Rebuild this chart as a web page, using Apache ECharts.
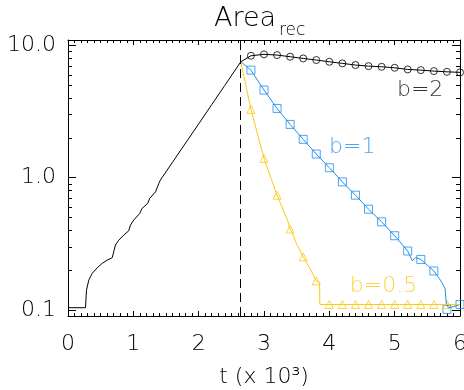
<!DOCTYPE html>
<html>
<head>
<meta charset="utf-8">
<script src="https://cdn.jsdelivr.net/npm/echarts@6/dist/echarts.min.js"></script>
<style>
  html, body { margin: 0; padding: 0; background: #fff; }
  #chart { width: 464px; height: 390px; }
</style>
</head>
<body>
<div id="chart"></div>
<script>
// growth phase (black), t in units of 10^3
const riseT = [0, 0.268, 0.283, 0.318, 0.37, 0.446, 0.523, 0.599, 0.676, 0.70, 0.726, 0.777, 0.853, 0.93,
  0.956, 1.006, 1.098, 1.134, 1.22, 1.25, 1.34, 1.39, 1.414, 1.6, 1.8, 2.0, 2.2, 2.4, 2.645]
const riseV = [0.104, 0.104, 0.141, 0.168, 0.189, 0.208, 0.225, 0.238, 0.248, 0.275, 0.31, 0.337, 0.368, 0.397,
  0.438, 0.478, 0.537, 0.586, 0.639, 0.697, 0.782, 0.905, 0.96, 1.31, 1.83, 2.55, 3.57, 4.99, 7.53]

// decay phase, b = 2 (black circles)
const b2T = [2.8, 3.0, 3.2, 3.4, 3.6, 3.8, 4.0, 4.2, 4.4, 4.6, 4.8, 5.0, 5.2, 5.4, 5.6, 5.8, 6.0]
const b2V = [8.36, 8.57, 8.46, 8.22, 7.98, 7.76, 7.53, 7.32, 7.11, 6.98, 6.90, 6.78, 6.59, 6.51, 6.40, 6.32, 6.26]

// b = 1 (blue squares) and its line
const b1T = [2.8, 3.0, 3.2, 3.4, 3.6, 3.8, 4.0, 4.2, 4.4, 4.6, 4.8, 5.0, 5.2, 5.4, 5.6, 5.8, 6.0]
const b1V = [6.51, 4.60, 3.34, 2.53, 1.95, 1.51, 1.19, 0.93, 0.738, 0.578, 0.464, 0.364, 0.279, 0.241, 0.197, 0.101, 0.110]
const b1LineT = [2.645, 2.74, 2.8, 3.0, 3.2, 3.4, 3.6, 3.8, 4.0, 4.2, 4.4, 4.6, 4.8, 5.0, 5.2, 5.27, 5.32, 5.4,
  5.6, 5.7, 5.77, 5.79, 5.82, 5.9, 6.0]
const b1LineV = [7.53, 6.9, 6.51, 4.60, 3.34, 2.53, 1.95, 1.51, 1.19, 0.93, 0.738, 0.578, 0.464, 0.364, 0.279, 0.235, 0.25, 0.241,
  0.197, 0.168, 0.146, 0.114, 0.104, 0.106, 0.110]

// b = 0.5 (yellow triangles) and its line
const b05T = [2.8, 3.0, 3.2, 3.4, 3.6, 3.8, 4.0, 4.2, 4.4, 4.6, 4.8, 5.0, 5.2, 5.4, 5.6, 5.8]
const b05V = [3.29, 1.40, 0.738, 0.409, 0.252, 0.166, 0.110, 0.110, 0.110, 0.110, 0.110, 0.110, 0.110, 0.110, 0.110, 0.110]
const b05LineT = [2.645, 2.8, 3.0, 3.2, 3.36, 3.4, 3.46, 3.48, 3.6, 3.69, 3.8, 3.85, 3.855, 6.0]
const b05LineV = [7.53, 3.29, 1.40, 0.738, 0.478, 0.409, 0.357, 0.33, 0.252, 0.212, 0.166, 0.16, 0.110, 0.110]

// dashed marker of the peak time
const peakT = 2.63

// curve labels
const labelText = ['b=2', 'b=1', 'b=0.5']
const labelT = [5.39, 4.35, 4.83]
const labelV = [4.6, 1.71, 0.150]

const yRange = [0.09, 11]
const yMajor = [0.1, 1, 10]
const yMinor = [0.2, 0.3, 0.4, 0.5, 0.6, 0.7, 0.8, 0.9, 2, 3, 4, 5, 6, 7, 8, 9]

const BLUE = '#1e8ff0'
const YELLOW = '#ffc814'
const FONT = 'DejaVu Sans'

const pairs = (xs, ys) => xs.map((x, i) => [x, ys[i]])
const logs = arr => arr.map(v => Math.log10(v))

const chart = echarts.init(document.getElementById('chart'))

const xAxisBase = {
  type: 'value',
  min: 0,
  max: 6,
  interval: 1,
  axisLine: { onZero: false, lineStyle: { color: '#000', width: 1 } },
  axisTick: { inside: true, length: 5, lineStyle: { color: '#000' } },
  minorTick: { show: true, splitNumber: 10, length: 3, lineStyle: { color: '#000' } },
  splitLine: { show: false },
  minorSplitLine: { show: false }
}

const yLogBase = {
  type: 'value',
  min: Math.log10(yRange[0]),
  max: Math.log10(yRange[1]),
  splitLine: { show: false },
  axisLabel: { show: false }
}

const option = {
  animation: false,
  backgroundColor: '#fff',
  textStyle: { fontFamily: FONT },
  grid: { left: 68, right: 4, top: 40, bottom: 74, outerBoundsMode: 'none', containLabel: false },
  graphic: [
    { type: 'text', x: 214, y: 19, style: { text: 'Area', font: '200 27px "DejaVu Sans"', fill: '#000', verticalAlign: 'middle' } },
    { type: 'text', x: 279, y: 31, style: { text: 'rec', font: '200 17px "DejaVu Sans"', fill: '#000', verticalAlign: 'middle' } }
  ],
  xAxis: [
    {
      ...xAxisBase,
      position: 'bottom',
      axisLabel: { color: '#000', fontSize: 22, fontWeight: 200, margin: 17 },
      name: 't (x 10³)',
      nameLocation: 'middle',
      nameGap: 50,
      nameTextStyle: { color: '#000', fontSize: 22, fontWeight: 200 }
    },
    { ...xAxisBase, position: 'top', axisLabel: { show: false } }
  ],
  yAxis: [
    // data axis, hidden; the frame and ticks come from the value axes below
    { type: 'log', logBase: 10, min: yRange[0], max: yRange[1], show: false },
    {
      ...yLogBase,
      position: 'left',
      axisLine: { show: true, onZero: false, lineStyle: { color: '#000', width: 1 } },
      axisTick: { inside: true, length: 8, customValues: logs(yMajor), lineStyle: { color: '#000' } },
      axisLabel: {
        show: true,
        customValues: logs(yMajor),
        color: '#000',
        fontSize: 22,
        fontWeight: 200,
        margin: 12,
        formatter: v => Math.pow(10, v).toFixed(1)
      }
    },
    {
      ...yLogBase,
      position: 'left',
      axisLine: { show: false },
      axisTick: { inside: true, length: 4, customValues: logs(yMinor), lineStyle: { color: '#000' } }
    },
    {
      ...yLogBase,
      position: 'right',
      axisLine: { show: true, onZero: false, lineStyle: { color: '#000', width: 1 } },
      axisTick: { inside: true, length: 8, customValues: logs(yMajor), lineStyle: { color: '#000' } }
    },
    {
      ...yLogBase,
      position: 'right',
      axisLine: { show: false },
      axisTick: { inside: true, length: 4, customValues: logs(yMinor), lineStyle: { color: '#000' } }
    }
  ],
  series: [
    {
      name: 'b=2',
      type: 'line',
      yAxisIndex: 0,
      data: pairs(riseT, riseV).concat(pairs(b2T, b2V)),
      symbol: 'none',
      lineStyle: { color: '#000', width: 1 },
      markLine: {
        silent: true,
        symbol: ['none', 'none'],
        label: { show: false },
        lineStyle: { color: '#000', width: 1, type: [9, 5] },
        data: [{ xAxis: peakT }]
      }
    },
    {
      type: 'line',
      yAxisIndex: 0,
      data: pairs(b1LineT, b1LineV),
      symbol: 'none',
      lineStyle: { color: BLUE, width: 1 }
    },
    {
      type: 'line',
      yAxisIndex: 0,
      data: pairs(b05LineT, b05LineV),
      symbol: 'none',
      lineStyle: { color: YELLOW, width: 1 }
    },
    {
      type: 'scatter',
      yAxisIndex: 0,
      data: pairs(b2T, b2V),
      symbol: 'circle',
      symbolSize: 7,
      itemStyle: { color: 'transparent', borderColor: '#000', borderWidth: 1 }
    },
    {
      type: 'scatter',
      yAxisIndex: 0,
      data: pairs(b1T, b1V),
      symbol: 'rect',
      symbolSize: 8,
      itemStyle: { color: 'transparent', borderColor: BLUE, borderWidth: 1 }
    },
    {
      type: 'scatter',
      yAxisIndex: 0,
      data: pairs(b05T, b05V),
      symbol: 'triangle',
      symbolSize: 8,
      itemStyle: { color: 'transparent', borderColor: YELLOW, borderWidth: 1 }
    },
    {
      type: 'scatter',
      yAxisIndex: 0,
      symbolSize: 0,
      silent: true,
      data: labelText.map((s, i) => ({
        name: s,
        value: [labelT[i], labelV[i]],
        label: { color: ['#000', BLUE, YELLOW][i] }
      })),
      label: {
        show: true,
        position: 'inside',
        formatter: p => p.name,
        fontSize: 22,
        fontWeight: 200
      }
    }
  ]
}

chart.setOption(option)
window.addEventListener('resize', () => chart.resize())
</script>
</body>
</html>
